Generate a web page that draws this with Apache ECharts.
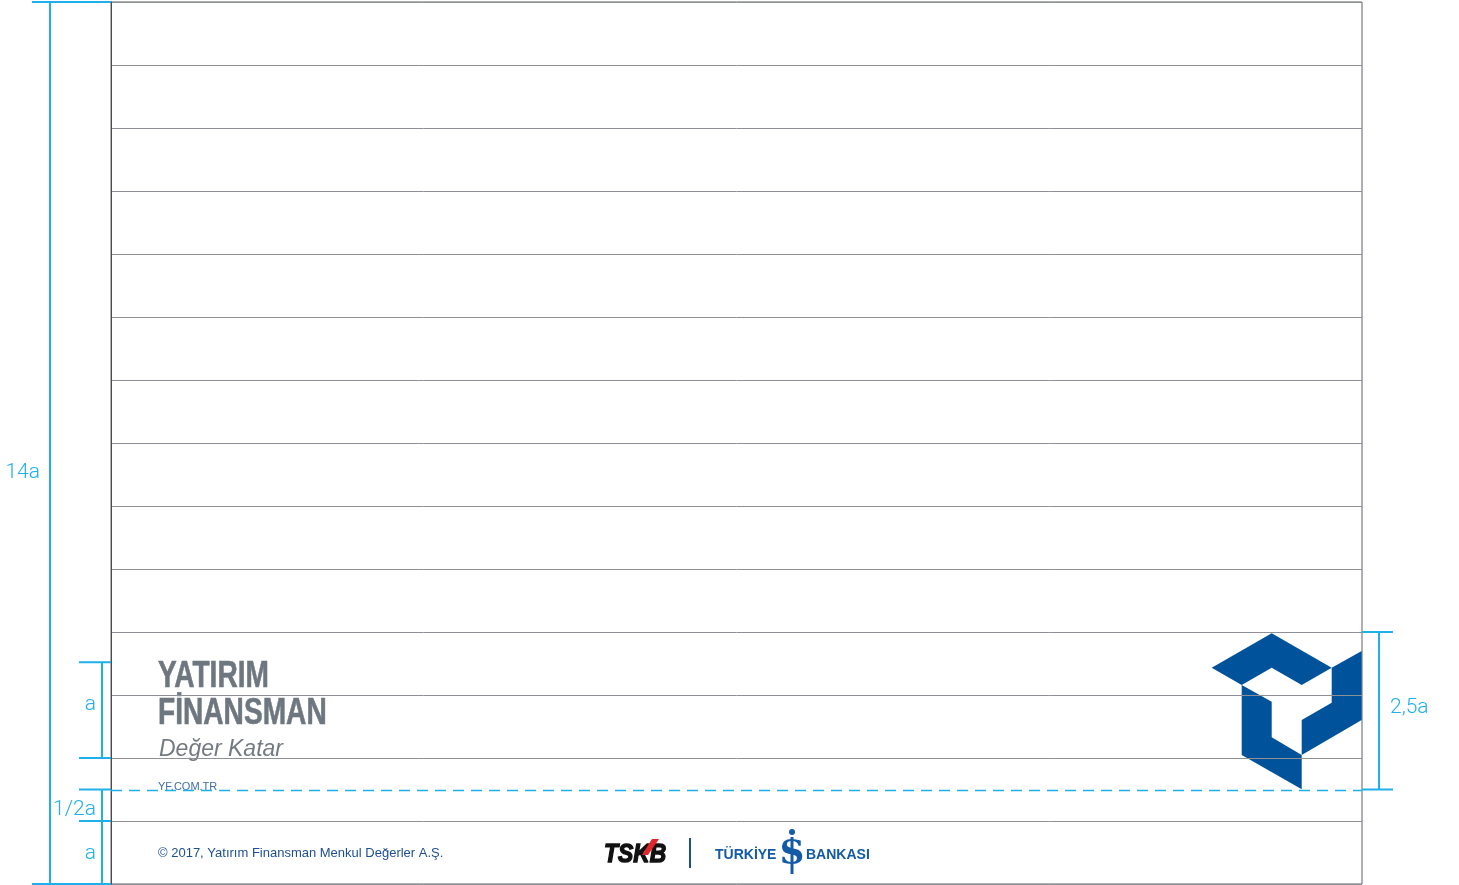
<!DOCTYPE html>
<html><head><meta charset="utf-8">
<script src="https://cdn.jsdelivr.net/npm/echarts/dist/echarts.min.js"></script>
<style>html,body{margin:0;padding:0;background:#fff}#c{width:1459px;height:885px}</style>
</head><body><div id="c"></div>
<script>
// ---- data (in units of "a", the module height) ----
const rowLevels = [0,1,2,3,4,5,6,7,8,9,10,11,12,13,14];
const guideLevels = [1.5];
const leftTotalSpans = [[0, 14]];
const leftTotalLabels = ['14a'];
const leftDetailSpans = [[2, 3.52], [1, 1.5], [0, 1]];
const leftDetailLabels = ['a', '1/2a', 'a'];
const rightSpans = [[1.5, 4]];
const rightLabels = ['2,5a'];
const brandLines = ['YATIRIM', 'FİNANSMAN'];
const tagline = 'Değer Katar';
const webText = 'YF.COM.TR';
const copyrightText = '© 2017, Yatırım Finansman Menkul Değerler A.Ş.';
const partnerLeft = 'TSKB';
const partnerRight = ['TÜRKİYE', 'BANKASI'];

const CYAN = '#1eb0ea';
const GREY_LINE = '#8d9197';
const BLUE = '#00539b';
const dimFont = '300 21px Roboto, "Open Sans", sans-serif';

function dimRenderer(spans, labels, xLine, xT1, xT2, labelX, align, nudges) {
  return function (params, api) {
    const i = params.dataIndex;
    const s = spans[i];
    const top = api.coord([xLine, s[1]]);
    const bot = api.coord([xLine, s[0]]);
    const tA = api.coord([xT1, s[1]]), tB = api.coord([xT2, s[1]]);
    const bA = api.coord([xT1, s[0]]), bB = api.coord([xT2, s[0]]);
    const mid = api.coord([labelX, (s[0] + s[1]) / 2]);
    const st = {stroke: CYAN, lineWidth: 2};
    return {type: 'group', children: [
      {type: 'line', shape: {x1: top[0], y1: top[1], x2: bot[0], y2: bot[1]}, style: st},
      {type: 'line', shape: {x1: tA[0], y1: tA[1], x2: tB[0], y2: tB[1]}, style: st},
      {type: 'line', shape: {x1: bA[0], y1: bA[1], x2: bB[0], y2: bB[1]}, style: st},
      {type: 'text', x: mid[0], y: mid[1] + (nudges ? nudges[i] : 0), style: {text: labels[i], font: dimFont, fill: CYAN, align: align, verticalAlign: 'middle'}}
    ]};
  };
}

const chart = echarts.init(document.getElementById('c'), null, {renderer: 'canvas'});
const txt = (text, x, y, font, fill) => ({type: 'text', x: x, y: y, style: {text: text, font: font, fill: fill, verticalAlign: 'middle'}});
const brandFont = 'bold 37px "Liberation Sans", Arial, sans-serif';

chart.setOption({
  animation: false,
  grid: {left: 111, right: 97, top: 2, bottom: 1, show: true, borderColor: '#5d6066', borderWidth: 1},
  xAxis: {type: 'value', min: 111, max: 1362, show: false},
  yAxis: {type: 'value', min: 0, max: 14, interval: 1,
    axisLabel: {show: false}, axisTick: {show: false},
    axisLine: {show: true, lineStyle: {color: '#4a4c50', width: 1}},
    splitLine: {show: true, lineStyle: {color: GREY_LINE, width: 1}}},
  series: [
    {type: 'custom', clip: false, silent: true, data: guideLevels.map(v => [v]),
      renderItem: function (params, api) {
        const a = api.coord([111, api.value(0)]), b = api.coord([1362, api.value(0)]);
        return {type: 'line', shape: {x1: a[0], y1: a[1] + 1, x2: b[0], y2: b[1] + 1}, style: {stroke: '#1eaee8', lineWidth: 1.3, lineDash: [11, 7]}};
      }},
    {type: 'custom', clip: false, silent: true, data: leftTotalSpans,
      renderItem: dimRenderer(leftTotalSpans, leftTotalLabels, 50, 32, 111, 40, 'right', [30])},
    {type: 'custom', clip: false, silent: true, data: leftDetailSpans,
      renderItem: dimRenderer(leftDetailSpans, leftDetailLabels, 102, 79, 111, 96, 'right', [-5, 4, 1])},
    {type: 'custom', clip: false, silent: true, data: rightSpans,
      renderItem: dimRenderer(rightSpans, rightLabels, 1379, 1362, 1393, 1390, 'left', [-3])}
  ],
  graphic: [
    {type: 'text', x: 158, y: 677, scaleX: 0.76, style: {text: brandLines[0], font: brandFont, fill: '#6e7780', verticalAlign: 'middle', stroke: '#6e7780', lineWidth: 0.6}},
    {type: 'text', x: 158, y: 714, scaleX: 0.76, style: {text: brandLines[1], font: brandFont, fill: '#6e7780', verticalAlign: 'middle', stroke: '#6e7780', lineWidth: 0.6}},
    txt(tagline, 159, 750, 'italic 23px "Liberation Sans", Arial, sans-serif', '#737a83'),
    txt(webText, 158, 787, '11px "Liberation Sans", Arial, sans-serif', '#3f6ea8'),
    txt(copyrightText, 158, 853, '13px "Liberation Sans", Arial, sans-serif', '#1d4f91'),
    // TSKB mark
    {type: 'text', x: 604, y: 855, scaleX: 0.88, style: {text: partnerLeft, font: 'italic bold 26px "Liberation Sans", Arial, sans-serif', fill: '#111', verticalAlign: 'middle', stroke: '#111', lineWidth: 1.4}},
    {type: 'polygon', shape: {points: [[652, 839], [659, 839], [648, 855], [642, 855]]}, style: {fill: '#e3262b'}},
    {type: 'rect', shape: {x: 689, y: 838, width: 2, height: 30}, style: {fill: '#1a4f96'}},
    txt(partnerRight[0], 715, 855, 'bold 14px "Liberation Sans", Arial, sans-serif', '#135ba6'),
    txt(partnerRight[1], 806, 855, 'bold 14px "Liberation Sans", Arial, sans-serif', '#135ba6'),
    {type: 'circle', shape: {cx: 792, cy: 832, r: 3}, style: {fill: '#135ba6'}},
    {type: 'rect', shape: {x: 790.5, y: 837, width: 3, height: 37}, style: {fill: '#135ba6'}},
    {type: 'text', x: 792, y: 855, style: {text: 'S', font: 'bold 34px "DejaVu Serif", serif', fill: '#135ba6', align: 'center', verticalAlign: 'middle'}},
    // YF logo
    {type: 'polygon', shape: {points: [[1211.7, 667.7], [1271.7, 633.3], [1331.7, 667.7], [1301.7, 685], [1271.7, 667.7], [1241.7, 685]]}, style: {fill: BLUE}},
    {type: 'polygon', shape: {points: [[1241.7, 685], [1271.7, 701.7], [1271.7, 737.3], [1301.7, 755], [1301.7, 789.3], [1241.7, 755]]}, style: {fill: BLUE}},
    {type: 'polygon', shape: {points: [[1331.7, 667.7], [1361.7, 651], [1361.7, 720], [1301.7, 755], [1301.7, 720], [1331.7, 702.7]]}, style: {fill: BLUE}}
  ]
});
</script></body></html>
